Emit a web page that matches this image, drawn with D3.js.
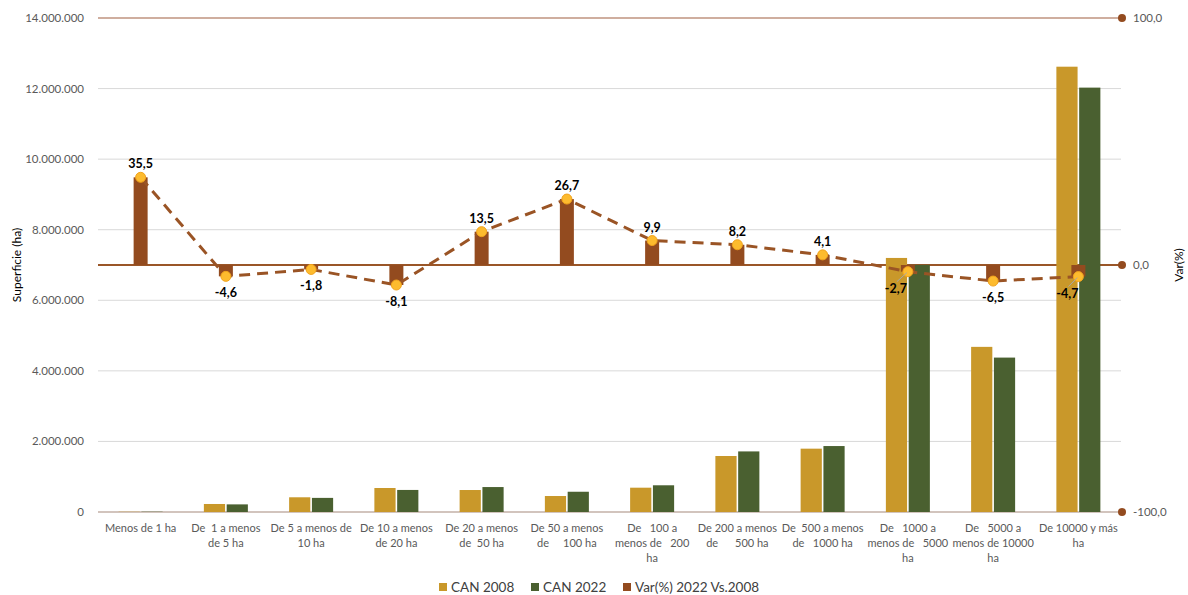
<!DOCTYPE html>
<html>
<head>
<meta charset="utf-8">
<script src="https://cdn.jsdelivr.net/npm/d3@7"></script>
<style>
  body { margin: 0; background: #fff; }
  text { font-family: Lato, "Open Sans", sans-serif; }
</style>
</head>
<body>
<script>
// data
var categories = [
  "Menos de 1 ha",
  "De  1 a menos\nde 5 ha",
  "De 5 a menos de\n10 ha",
  "De 10 a menos\nde 20 ha",
  "De 20 a menos\nde  50 ha",
  "De 50 a menos\nde     100 ha",
  "De   100 a\nmenos de   200\nha",
  "De 200 a menos\nde      500 ha",
  "De  500 a menos\nde   1000 ha",
  "De   1000 a\nmenos de   5000\nha",
  "De   5000 a\nmenos de 10000\nha",
  "De 10000 y más\nha"
];
var can2008 = [6000, 227000, 417000, 680000, 623000, 453000, 689000, 1587000, 1795000, 7200000, 4680000, 12620000];
var can2022 = [8100, 216000, 400000, 625000, 707000, 574000, 757000, 1717000, 1869000, 7005000, 4376000, 12027000];
var variacion = [35.5, -4.6, -1.8, -8.1, 13.5, 26.7, 9.9, 8.2, 4.1, -2.7, -6.5, -4.7];
var leftTicks = [0, 2000000, 4000000, 6000000, 8000000, 10000000, 12000000, 14000000];
var rightTicks = [-100, 0, 100];
var seriesNames = ["CAN 2008", "CAN 2022", "Var(%) 2022 Vs.2008"];
var colors = ["#C9982A", "#4A6030", "#934B1F"];

var width = 1188, height = 595;
var plot = {left: 98, right: 1121, top: 18, bottom: 512};

var svg = d3.select("body").append("svg")
    .attr("width", width)
    .attr("height", height);

// spanish number style: dot thousands, comma decimals, plain hyphen minus
var es = d3.formatLocale({decimal: ",", thousands: ".", grouping: [3], currency: ["", ""], minus: "-"});
var fmtLeft = es.format(",");
var fmtRight = es.format(".1f");

var x0 = d3.scaleBand().domain(d3.range(categories.length)).range([plot.left, plot.right]).padding(0);
var x1 = d3.scaleBand().domain([0, 1]).range([-22, 22]).paddingInner(0.07);
var yL = d3.scaleLinear().domain([0, 14000000]).range([plot.bottom, plot.top]);
var yR = d3.scaleLinear().domain([-100, 100]).range([plot.bottom, plot.top]);
var cx = function(i){ return x0(i) + x0.bandwidth() / 2; };

// gridlines
svg.append("g").selectAll("line")
    .data(leftTicks.slice(1, -1))
    .enter().append("line")
    .attr("x1", plot.left).attr("x2", plot.right)
    .attr("y1", function(d){ return yL(d); }).attr("y2", function(d){ return yL(d); })
    .attr("stroke", "#D9D9D9").attr("stroke-width", 1);

// top line and bottom axis line
svg.append("line")
    .attr("x1", plot.left).attr("x2", plot.right + 1)
    .attr("y1", yL(14000000)).attr("y2", yL(14000000))
    .attr("stroke", "#CFAE9F").attr("stroke-width", 2);
svg.append("line")
    .attr("x1", plot.left).attr("x2", plot.right + 1)
    .attr("y1", yL(0)).attr("y2", yL(0))
    .attr("stroke", "#D2C4BD").attr("stroke-width", 2);

// zero line of the secondary axis
svg.append("line")
    .attr("x1", plot.left).attr("x2", plot.right + 1)
    .attr("y1", yR(0)).attr("y2", yR(0))
    .attr("stroke", "#9A5628").attr("stroke-width", 2);

// left axis
svg.append("g").selectAll("text")
    .data(leftTicks)
    .enter().append("text")
    .attr("x", 84)
    .attr("y", function(d){ return yL(d); })
    .attr("dy", "0.35em")
    .attr("text-anchor", "end")
    .attr("font-size", "11.5px")
    .attr("fill", "#595959")
    .text(fmtLeft);

// right axis
svg.append("g").selectAll("circle")
    .data(rightTicks)
    .enter().append("circle")
    .attr("cx", plot.right + 1)
    .attr("cy", function(d){ return yR(d); })
    .attr("r", 4)
    .attr("fill", "#934B1F");
svg.append("g").selectAll("text")
    .data(rightTicks)
    .enter().append("text")
    .attr("x", 1133)
    .attr("y", function(d){ return yR(d); })
    .attr("dy", "0.35em")
    .attr("font-size", "11.5px")
    .attr("fill", "#595959")
    .text(fmtRight);

// axis titles
svg.append("text")
    .attr("transform", "translate(21," + ((plot.top + plot.bottom) / 2) + ") rotate(-90)")
    .attr("text-anchor", "middle")
    .attr("font-size", "12px")
    .attr("fill", "#000")
    .text("Superficie (ha)");
svg.append("text")
    .attr("transform", "translate(1183," + ((plot.top + plot.bottom) / 2) + ") rotate(-90)")
    .attr("text-anchor", "middle")
    .attr("font-size", "12px")
    .attr("fill", "#000")
    .text("Var(%)");

// category labels
var catG = svg.append("g").selectAll("text")
    .data(categories)
    .enter().append("text")
    .attr("text-anchor", "middle")
    .attr("font-size", "11px")
    .attr("fill", "#595959")
    .style("white-space", "pre");
catG.each(function(d, i){
    var lines = d.split("\n");
    var t = d3.select(this);
    lines.forEach(function(l, k){
        t.append("tspan")
            .attr("x", cx(i))
            .attr("y", 532 + k * 15)
            .text(l);
    });
});

// CAN bars
[can2008, can2022].forEach(function(values, s){
    svg.append("g").selectAll("rect")
        .data(values)
        .enter().append("rect")
        .attr("x", function(d, i){ return cx(i) + x1(s); })
        .attr("width", x1.bandwidth())
        .attr("y", function(d){ return yL(d); })
        .attr("height", function(d){ return yL(0) - yL(d); })
        .attr("fill", colors[s]);
});

// variation bars
svg.append("g").selectAll("rect")
    .data(variacion)
    .enter().append("rect")
    .attr("x", function(d, i){ return cx(i) - 7; })
    .attr("width", 14)
    .attr("y", function(d){ return yR(Math.max(0, d)); })
    .attr("height", function(d){ return Math.abs(yR(0) - yR(d)); })
    .attr("fill", colors[2]);

// dashed variation line
var line = d3.line()
    .x(function(d, i){ return cx(i); })
    .y(function(d){ return yR(d); });
svg.append("path")
    .datum(variacion)
    .attr("d", line)
    .attr("fill", "none")
    .attr("stroke", "#9A5425")
    .attr("stroke-width", 3)
    .attr("stroke-dasharray", "11,7");

svg.append("g").selectAll("circle")
    .data(variacion)
    .enter().append("circle")
    .attr("cx", function(d, i){ return cx(i); })
    .attr("cy", function(d){ return yR(d); })
    .attr("r", 5)
    .attr("fill", "#FDBB2E")
    .attr("stroke", "#F2A31C")
    .attr("stroke-width", 1);

// data labels; two of them were dragged aside in the original and have leader lines
var labelShift = {9: -12, 11: -11};
Object.keys(labelShift).forEach(function(k){
    var i = +k;
    svg.append("line")
        .attr("x1", cx(i) + labelShift[k] + 1).attr("y1", yR(variacion[i]) + 10)
        .attr("x2", cx(i) - 1).attr("y2", yR(variacion[i]) + 1)
        .attr("stroke", "#A6A6A6").attr("stroke-width", 1);
});
svg.append("g").selectAll("text")
    .data(variacion)
    .enter().append("text")
    .attr("x", function(d, i){ return cx(i) + (labelShift[i] || 0); })
    .attr("y", function(d){ return d >= 0 ? yR(d) - 9 : yR(d) + 21; })
    .attr("text-anchor", "middle")
    .attr("font-size", "12.5px")
    .attr("font-weight", "bold")
    .attr("fill", "#000")
    .text(function(d){ return fmtRight(d); });

// legend
var legendX = [439, 531, 623];
var legend = svg.append("g").selectAll("g")
    .data(seriesNames)
    .enter().append("g")
    .attr("transform", function(d, i){ return "translate(" + legendX[i] + ",583)"; });
legend.append("rect")
    .attr("width", 8).attr("height", 8)
    .attr("fill", function(d, i){ return colors[i]; });
legend.append("text")
    .attr("x", 12).attr("y", 4)
    .attr("dy", "0.35em")
    .attr("font-size", "13.5px")
    .attr("fill", "#404040")
    .text(function(d){ return d; });
</script>
</body>
</html>
